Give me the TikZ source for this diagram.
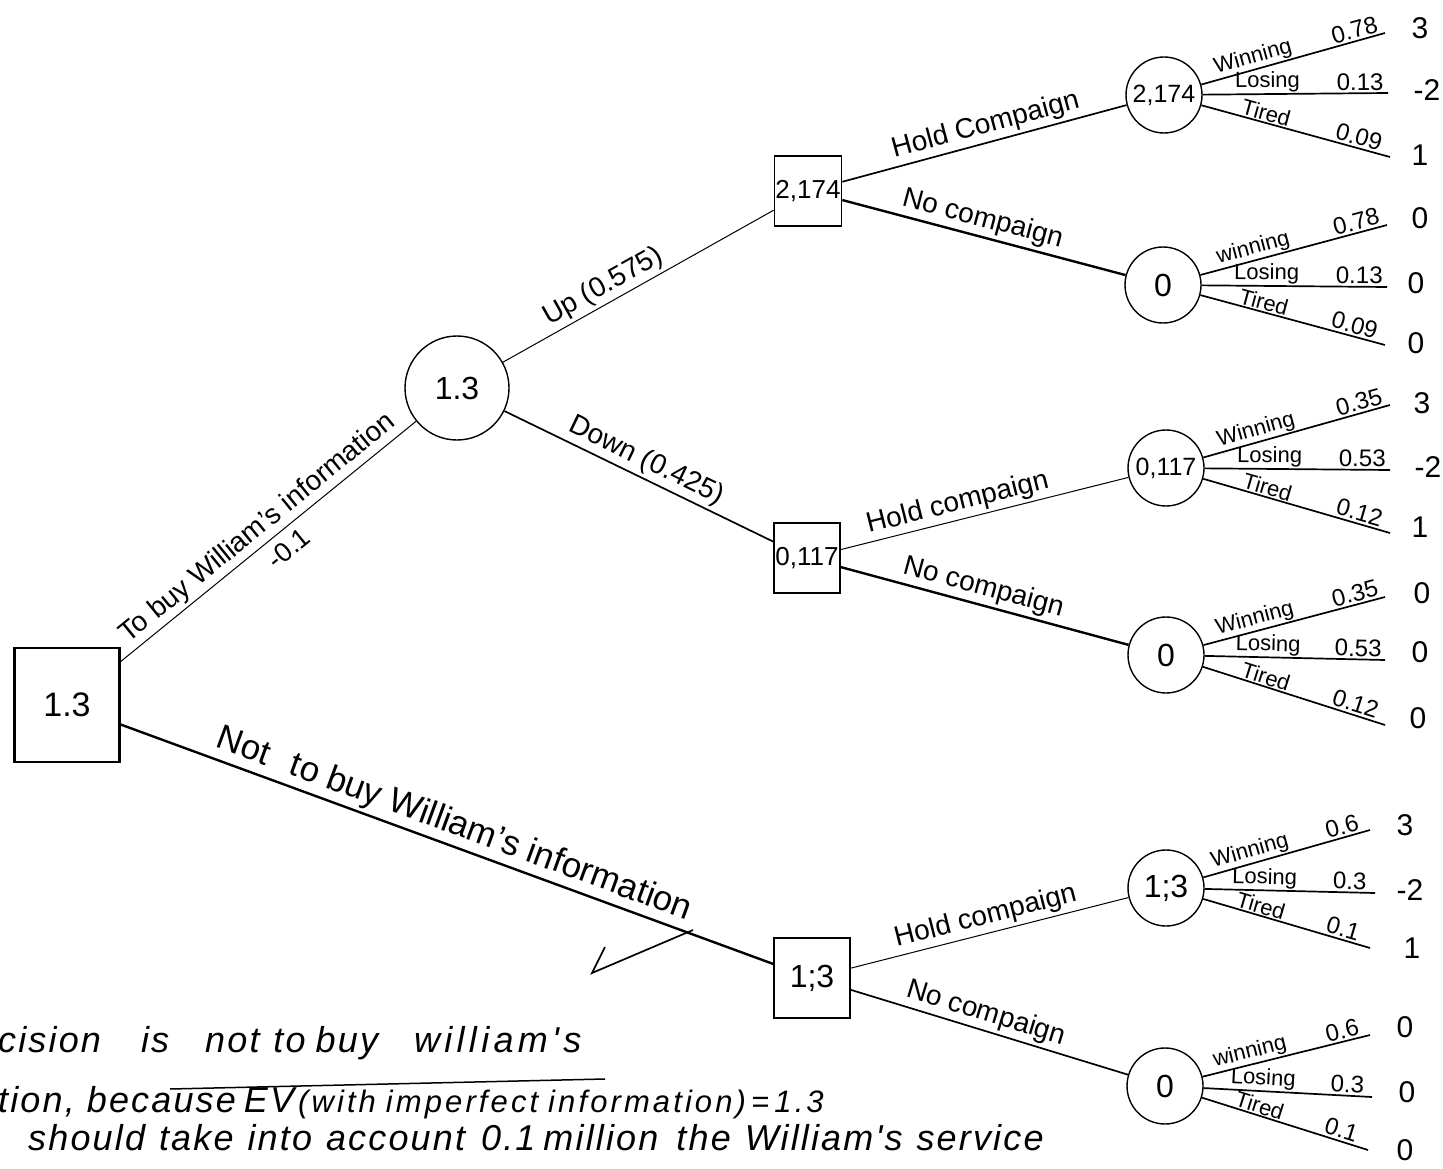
\documentclass[tikz,border=0pt]{standalone}
\usepackage{fontspec}
\setmainfont{Liberation Sans}
\newfontfamily\handfont[LetterSpace=6]{Liberation Sans}
\newcommand\fsz[1]{\fontsize{#1}{#1}\selectfont}
\newcommand\chancebr[7]{%
  \draw[midln] (#1) -- node[olbl,pos=0.30] (#1wn) {#2} node[plbl,pos=0.85] (#1wp) {#5} (#1w);
  \draw[midln] (#1) -- node[olbl,pos=0.35] (#1ln) {#3} node[plbl,pos=0.85] (#1lp) {#6} (#1l);
  \draw[midln] (#1) -- node[olbl,pos=0.33] (#1tn) {#4} node[plbl,pos=0.82] (#1tp) {#7} (#1t);
}
\tikzset{
  dec/.style={draw, line width=1.6pt, inner sep=0pt, font=\fsz{26}},
  chance/.style={draw, circle, line width=1.4pt, minimum size=76pt, inner sep=0pt, font=\fsz{26}},
  thinln/.style={line width=1pt},
  midln/.style={line width=1.7pt},
  thickln/.style={line width=2.4pt},
  elbl/.style={sloped, above, font=\fsz{28}, inner sep=3pt},
  olbl/.style={sloped, above, font=\fsz{22}, inner sep=1pt},
  plbl/.style={sloped, above, font=\fsz{24}, inner sep=2pt},
  val/.style={font=\fsz{30}, inner sep=0pt},
  note/.style={font=\handfont\itshape\fsz{36}, anchor=base west, inner sep=0pt}
}
\begin{document}
\begin{tikzpicture}[x=1pt,y=-1pt]
\useasboundingbox (0,0) rectangle (1443,1169);

% decision and chance nodes
\node[dec, minimum width=105pt, minimum height=114pt, line width=2.2pt, font=\fsz{34}] (root) at (67,705) {1.3};
\node[chance, minimum size=104pt, font=\fsz{32}] (A) at (457,388) {1.3};
\node[dec, minimum width=67pt, minimum height=70pt] (B1) at (808,191) {2,174};
\node[dec, minimum width=66pt, minimum height=70pt] (B2) at (807,558) {0,117};
\node[dec, minimum width=76pt, minimum height=80pt, font=\fsz{32}] (B3) at (812,978) {1;3};

\node[chance, font=\fsz{25}] (C1) at (1164,95) {2,174};
\node[chance, font=\fsz{32}] (C2) at (1163,285) {0};
\node[chance, font=\fsz{25}] (C3) at (1166,468) {0,117};
\node[chance, font=\fsz{32}] (C4) at (1166,655) {0};
\node[chance, font=\fsz{32}] (C5) at (1166,888) {1;3};
\node[chance, font=\fsz{32}] (C6) at (1165,1086) {0};

% main branches
\draw[thinln] (root) -- node[elbl, pos=0.50, font=\fsz{28}] (lbuy) {To buy William's information}
                      node[elbl, below, pos=0.53, inner sep=8pt, font=\fsz{27}] (lcost) {-0.1} (A);
\draw[thickln] (root) -- node[elbl, pos=0.50, font=\fsz{35}] (lnot) {Not\hspace{14pt} to buy William's information} (B3);
\draw[thinln] (A) -- node[elbl, pos=0.40, font=\fsz{28}] (lup) {Up (0.575)} (B1);
\draw[midln] (A) -- node[elbl, pos=0.50] (ldown) {Down (0.425)} (B2);

\draw[midln] (B1) -- node[elbl, pos=0.52] (h1) {Hold Compaign} (C1);
\draw[thickln] (B1) -- node[elbl, pos=0.48] (n1) {No compaign} (C2);
\draw[thinln] (B2) -- node[elbl, pos=0.42] (h2) {Hold compaign} (C3);
\draw[thickln] (B2) -- node[elbl, pos=0.48] (n2) {No compaign} (C4);
\draw[thinln] (B3) -- node[elbl, pos=0.50] (h3) {Hold compaign} (C5);
\draw[midln] (B3) -- node[elbl, pos=0.47] (n3) {No compaign} (C6);

% outcome end points
\coordinate (C1w) at (1385,33);  \coordinate (C1l) at (1388,93);  \coordinate (C1t) at (1390,157);
\coordinate (C2w) at (1387,225); \coordinate (C2l) at (1387,287); \coordinate (C2t) at (1385,345);
\coordinate (C3w) at (1390,405); \coordinate (C3l) at (1390,470); \coordinate (C3t) at (1390,533);
\coordinate (C4w) at (1385,597); \coordinate (C4l) at (1385,660); \coordinate (C4t) at (1385,725);
\coordinate (C5w) at (1370,830); \coordinate (C5l) at (1375,893); \coordinate (C5t) at (1370,948);
\coordinate (C6w) at (1370,1035);\coordinate (C6l) at (1372,1097);\coordinate (C6t) at (1368,1150);

\chancebr{C1}{Winning}{Losing}{Tired}{0.78}{0.13}{0.09}
\chancebr{C2}{winning}{Losing}{Tired}{0.78}{0.13}{0.09}
\chancebr{C3}{Winning}{Losing}{Tired}{0.35}{0.53}{0.12}
\chancebr{C4}{Winning}{Losing}{Tired}{0.35}{0.53}{0.12}
\chancebr{C5}{Winning}{Losing}{Tired}{0.6}{0.3}{0.1}
\chancebr{C6}{winning}{Losing}{Tired}{0.6}{0.3}{0.1}

% payoffs
\node[val] (v1a) at (1420,28) {3};  \node[val] (v1b) at (1427,90) {-2}; \node[val] (v1c) at (1420,155) {1};
\node[val] (v2a) at (1420,218) {0}; \node[val] (v2b) at (1416,283) {0}; \node[val] (v2c) at (1416,343) {0};
\node[val] (v3a) at (1422,403) {3}; \node[val] (v3b) at (1428,467) {-2}; \node[val] (v3c) at (1420,527) {1};
\node[val] (v4a) at (1422,593) {0}; \node[val] (v4b) at (1420,652) {0}; \node[val] (v4c) at (1418,718) {0};
\node[val] (v5a) at (1405,825) {3}; \node[val] (v5b) at (1410,890) {-2}; \node[val] (v5c) at (1412,948) {1};
\node[val] (v6a) at (1405,1027) {0};\node[val] (v6b) at (1407,1092) {0};\node[val] (v6c) at (1405,1150) {0};

% check mark
\draw[midln] (605,947) -- (592,973) -- (693,930);

% conclusion text
\node[note] (t1) at (-2,1052) {cision\hspace{40pt}is\hspace{36pt}not\hspace{14pt}to\hspace{10pt}buy\hspace{36pt}{\addfontfeature{LetterSpace=12}william's}};
\node[note] (t2) at (-2,1112) {tion,\hspace{12pt}because\hspace{8pt}EV\hspace{4pt}{\fsz{31}\addfontfeature{LetterSpace=10}(with\hspace{10pt}imperfect\hspace{10pt}information)\,=\,1.3}};
\node[note] (t3) at (28,1150) {should\hspace{14pt}take\hspace{14pt}into\hspace{14pt}account\hspace{16pt}0.1\hspace{8pt}million\hspace{18pt}the\hspace{14pt}William's\hspace{14pt}service};
\draw[line width=1.5pt] (170,1089) -- (605,1079);
\end{tikzpicture}
\end{document}
